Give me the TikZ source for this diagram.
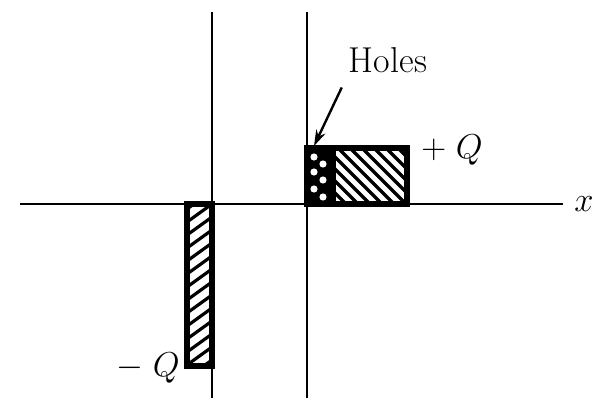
\documentclass[tikz,border=0pt]{standalone}
\usetikzlibrary{arrows.meta, positioning}

\begin{document}
\begin{tikzpicture}[
    x=0.5pt, y=-0.5pt,
    axis/.style={line width=1.4pt},
    plate/.style={line width=2.8pt},
    hatch/.style={line width=1.6pt},
    lbl/.style={font=\fontsize{18}{21}\selectfont, inner sep=0pt},
    arrow/.style={-{Stealth[length=8pt,width=5pt]}, line width=1.2pt}
  ]
    \useasboundingbox (0,0) rectangle (596,402);

    % axes and the two plate lines
    \draw[axis] (20,204) -- (563,204) node[lbl, right=5pt] (xlab) {$x$};
    \draw[axis] (212,12) -- (212,398);
    \draw[axis] (307,12) -- (307,398);

    % negative charge layer
    \begin{scope}
      \clip (187,204) rectangle (212,366);
      \foreach \y in {200,213,...,390}
        \draw[hatch] (187,\y+9) -- (212,\y-9);
    \end{scope}
    \draw[plate] (187,204) rectangle (212,366);

    % positive charge layer with holes
    \fill (307,148) rectangle (333,204);
    \foreach \x/\y in {314/157,323/164,314/172,323/180,314/189,323/197}
      \fill[white] (\x,\y) circle (3.6);
    \begin{scope}
      \clip (333,148) rectangle (407,204);
      \foreach \x in {290,302,...,420}
        \draw[hatch] (\x,148) -- (\x+56,204);
    \end{scope}
    \draw[plate] (307,148) rectangle (407,204);
    \draw[plate] (333,148) -- (333,204);

    \node[lbl] (plusq)  at (452,150) {$+\;Q$};
    \node[lbl] (minusq) at (148,368) {$-\;Q$};

    \node[lbl] (holes) at (388,60) {Holes};
    \coordinate (hole) at (314,146);
    \draw[arrow, shorten <=8pt] (holes.south west) -- (hole);
  \end{tikzpicture}
\end{document}
